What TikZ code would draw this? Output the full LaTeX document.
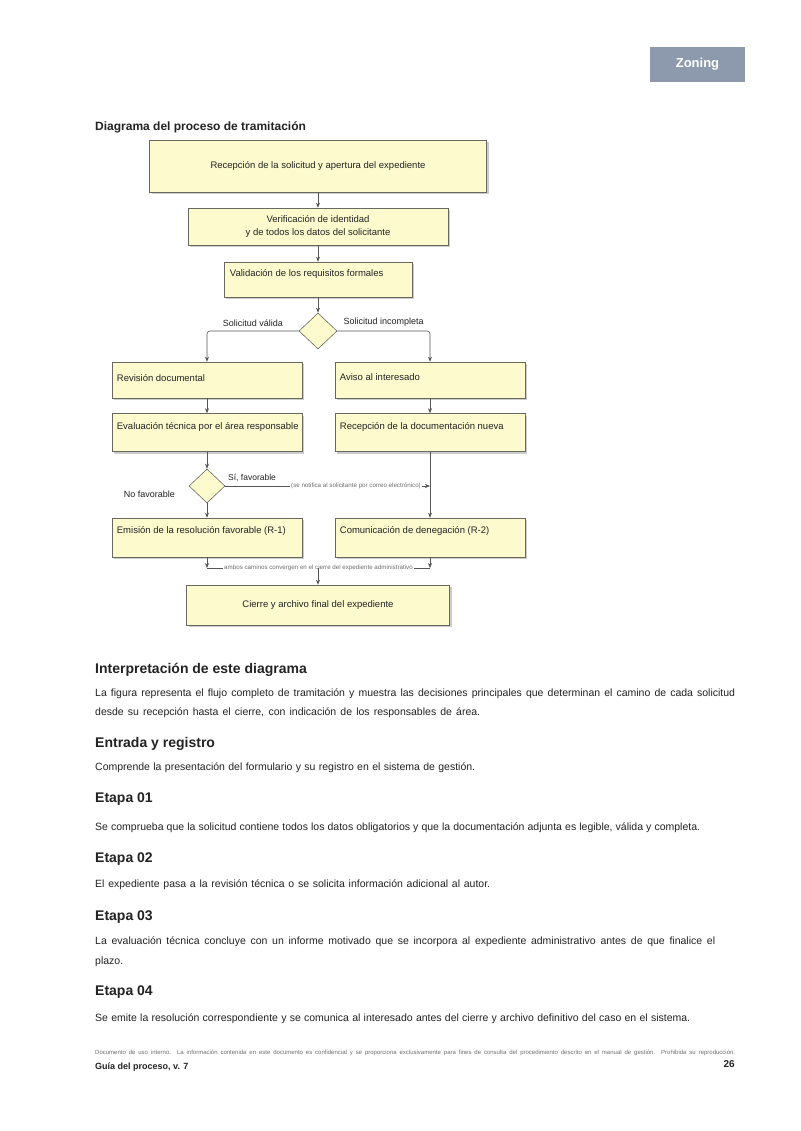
\documentclass[tikz,border=0pt]{standalone}
\usepackage{fontspec}
\setmainfont{Liberation Sans}
\usetikzlibrary{arrows.meta,shapes.geometric,shadows,calc}
\definecolor{boxfill}{RGB}{253,250,205}
\definecolor{boxline}{RGB}{105,105,95}
\definecolor{badgec}{RGB}{141,154,174}
\definecolor{txtc}{RGB}{35,35,35}
\definecolor{linec}{RGB}{85,85,85}
\definecolor{greyt}{RGB}{110,110,110}
\newcommand\myBody{\fontsize{10.5}{12}\selectfont}
\newcommand\myHead{\fontsize{14}{16}\selectfont\bfseries}
\newcommand\myNode{\fontsize{9.5}{11}\selectfont}
\newcommand\myLbl{\fontsize{9}{10}\selectfont}
\newcommand\myTiny{\fontsize{6.2}{7}\selectfont}
\newcommand\myLine[2]{\makebox[#1pt][s]{#2}}
\tikzset{
  box/.style={draw=boxline, fill=boxfill, line width=0.6pt, inner sep=0pt,
    drop shadow={shadow xshift=2pt, shadow yshift=-2pt, opacity=0.4}},
  dec/.style={diamond, aspect=1, draw=boxline, fill=boxfill, line width=0.6pt, inner sep=0pt},
  ntext/.style={font=\myNode, text=txtc, inner sep=0pt},
  lbl/.style={font=\myLbl, text=txtc, inner sep=1pt},
  tinylbl/.style={font=\myTiny, text=greyt, inner sep=1pt, fill=white},
  line/.style={draw=linec, line width=0.6pt, rounded corners=3pt},
  arr/.style={line, -{Stealth[length=5pt,width=4pt]}},
  body/.style={font=\myBody, text=txtc, inner sep=0pt, anchor=base west},
  head/.style={font=\myHead, text=txtc, inner sep=0pt, anchor=base west},
}
\begin{document}
\begin{tikzpicture}[x=1pt,y=-1pt]
\useasboundingbox (0,0) rectangle (800,1131);
\fill[white] (0,0) rectangle (800,1131);

% badge
\node[fill=badgec, minimum width=95, minimum height=35, inner sep=0pt, text=white,
  font=\fontsize{13}{15}\selectfont\bfseries] (badge) at (697.5,64.5) {Zoning};

% title
\node[anchor=base west, inner sep=0pt, font=\fontsize{12}{14}\selectfont\bfseries, text=txtc]
  (title) at (95,131) {Diagrama del proceso de tramitación};

% boxes
\node[box, minimum width=337, minimum height=52, font=\myNode, text=txtc] (b1) at (318,166)
  {Recepción de la solicitud y apertura del expediente};
\node[box, minimum width=260, minimum height=37, font=\myNode, text=txtc, align=center] (b2) at (318,226.5)
  {Verificación de identidad\\[2pt]y de todos los datos del solicitante};
\node[box, minimum width=188, minimum height=35] (b3) at (318,279.5) {};
\node[ntext, anchor=west] (t3) at ($(b3.west)+(6,-6)$) {Validación de los requisitos formales};

\node[dec, minimum width=38, minimum height=36] (d1) at (318,331) {};

\node[box, minimum width=190, minimum height=36] (b4) at (207,380) {};
\node[ntext, anchor=west] (t4) at ($(b4.west)+(5,-2)$) {Revisión documental};
\node[box, minimum width=190, minimum height=36] (b5) at (430,380) {};
\node[ntext, anchor=west] (t5) at ($(b5.west)+(5,-3)$) {Aviso al interesado};

\node[box, minimum width=190, minimum height=38] (b6) at (207,432.5) {};
\node[ntext, anchor=west] (t6) at ($(b6.west)+(5,-6)$) {Evaluación técnica por el área responsable};
\node[box, minimum width=190, minimum height=38] (b7) at (430,432.5) {};
\node[ntext, anchor=west] (t7) at ($(b7.west)+(5,-6)$) {Recepción de la documentación nueva};

\node[dec, minimum width=36, minimum height=34] (d2) at (207,486) {};

\node[box, minimum width=190, minimum height=39] (b8) at (207,537.5) {};
\node[ntext, anchor=west] (t8) at ($(b8.west)+(5,-7)$) {Emisión de la resolución favorable (R-1)};
\node[box, minimum width=190, minimum height=39] (b9) at (430,537.5) {};
\node[ntext, anchor=west] (t9) at ($(b9.west)+(5,-7)$) {Comunicación de denegación (R-2)};

\coordinate (m) at (318,568);
\node[box, minimum width=263, minimum height=40, font=\myNode, text=txtc] (b10) at (318,605)
  {Cierre y archivo final del expediente};

% connectors
\draw[arr] (b1.south) -- (b2.north);
\draw[arr] (b2.south) -- (b3.north);
\draw[arr] (b3.south) -- (d1.north);
\draw[arr] (d1.west) -- node[lbl, above=3pt] (l1) {Solicitud válida} (b4.north |- d1.west) -- (b4.north);
\draw[arr] (d1.east) -- node[lbl, above=3pt] (l2) {Solicitud incompleta} (b5.north |- d1.east) -- (b5.north);
\draw[arr] (b4.south) -- (b6.north);
\draw[arr] (b5.south) -- (b7.north);
\draw[arr] (b6.south) -- (d2.north);
\draw[arr] (d2.south) -- (b8.north);
\node[lbl, anchor=east] (l3) at (176,494) {No favorable};
\draw[arr] (d2.east) -- (b7.south |- d2.east);
\node[lbl, anchor=south west, font=\fontsize{8.5}{10}\selectfont] (l4) at (227,483) {Sí, favorable};
\node[tinylbl] (l5) at (356,486) {(se notifica al solicitante por correo electrónico)};
\draw[arr] (b7.south) -- (b9.north);
\draw[arr] (b8.south) -- (b8.south |- m);
\draw[arr] (b9.south) -- (b9.south |- m);
\draw[line] (b8.south |- m) -- node[tinylbl] (l6) {ambos caminos convergen en el cierre del expediente administrativo} (b9.south |- m);
\draw[arr] (m) -- (b10.north);

% text section
\node[head] (h1) at (95,673) {Interpretación de este diagrama};
\node[body] (p1a) at (95,696) {\myLine{640}{La figura representa el flujo completo de tramitación y muestra las decisiones principales que determinan el camino de cada solicitud}};
\node[body] (p1b) at (95,715) {\myLine{385}{desde su recepción hasta el cierre, con indicación de los responsables de área.}};

\node[head] (h2) at (95,747) {Entrada y registro};
\node[body] (p2) at (95,770) {\myLine{380}{Comprende la presentación del formulario y su registro en el sistema de gestión.}};

\node[head] (h3) at (95,802) {Etapa 01};
\node[body] (p3) at (95,830) {\myLine{605}{Se comprueba que la solicitud contiene todos los datos obligatorios y que la documentación adjunta es legible, válida y completa.}};

\node[head] (h4) at (95,862) {Etapa 02};
\node[body] (p4) at (95,887) {\myLine{395}{El expediente pasa a la revisión técnica o se solicita información adicional al autor.}};

\node[head] (h5) at (95,920) {Etapa 03};
\node[body] (p5a) at (95,944) {\myLine{620}{La evaluación técnica concluye con un informe motivado que se incorpora al expediente administrativo antes de que finalice el}};
\node[body] (p5b) at (95,964) {plazo.};

\node[head] (h6) at (95,995) {Etapa 04};
\node[body] (p6) at (95,1021) {\myLine{595}{Se emite la resolución correspondiente y se comunica al interesado antes del cierre y archivo definitivo del caso en el sistema.}};

% footer
\node[anchor=base west, inner sep=0pt, font=\fontsize{6}{7}\selectfont, text=greyt] (f1) at (95,1054)
  {\myLine{640}{Documento de uso interno. La información contenida en este documento es confidencial y se proporciona exclusivamente para fines de consulta del procedimiento descrito en el manual de gestión. Prohibida su reproducción.}};
\node[anchor=base west, inner sep=0pt, font=\fontsize{9}{10}\selectfont\bfseries, text=txtc] (f2) at (95,1069)
  {Guía del proceso, v. 7};
\node[anchor=base east, inner sep=0pt, font=\fontsize{10}{12}\selectfont\bfseries, text=txtc] (f3) at (735,1067)
  {26};
\end{tikzpicture}
\end{document}
